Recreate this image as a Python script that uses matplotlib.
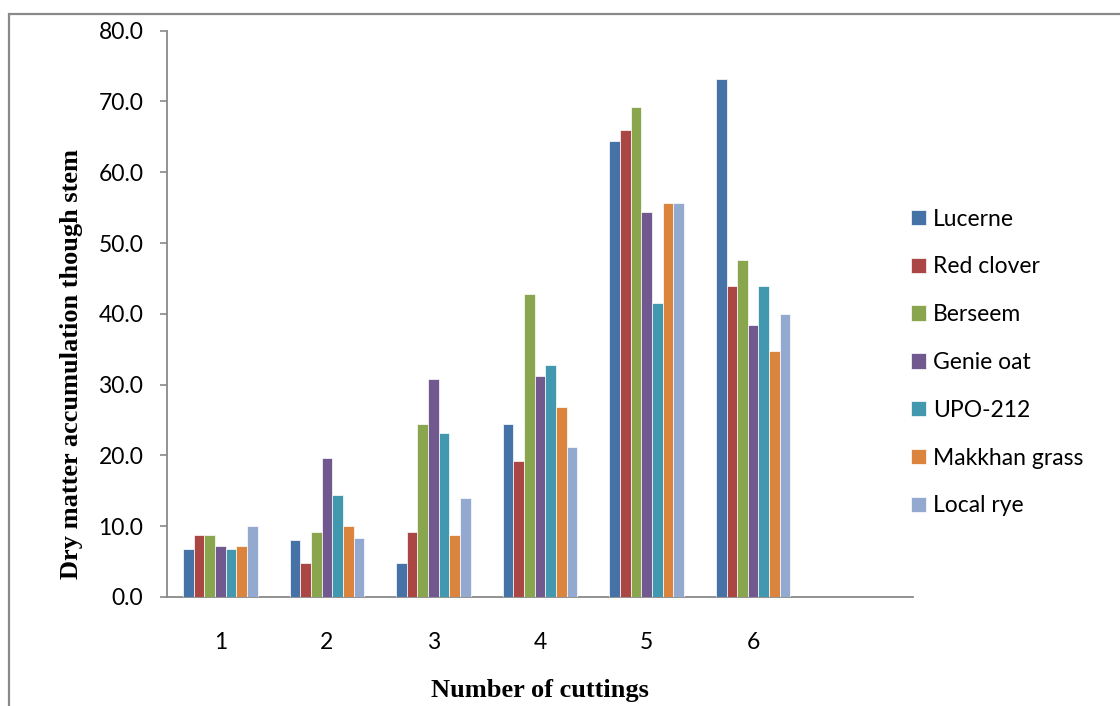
import numpy as np
import matplotlib
matplotlib.use("Agg")
import matplotlib.pyplot as plt
from matplotlib.patches import Rectangle

cuttings = ["1", "2", "3", "4", "5", "6"]
varieties = ["Lucerne", "Red clover", "Berseem", "Genie oat", "UPO-212",
             "Makkhan grass", "Local rye"]
colors = ["#4572A7", "#AA4643", "#89A54E", "#71588F", "#4198AF",
          "#DB843D", "#93A9CF"]

lucerne = [6.8, 8.0, 4.8, 24.4, 64.4, 73.2]
red_clover = [8.8, 4.8, 9.2, 19.2, 66.0, 44.0]
berseem = [8.8, 9.2, 24.4, 42.8, 69.2, 47.6]
genie_oat = [7.2, 19.6, 30.8, 31.2, 54.4, 38.4]
upo_212 = [6.8, 14.4, 23.2, 32.8, 41.6, 44.0]
makkhan_grass = [7.2, 10.0, 8.8, 26.8, 55.6, 34.8]
local_rye = [10.0, 8.4, 14.0, 21.2, 55.6, 40.0]

series = [lucerne, red_clover, berseem, genie_oat, upo_212, makkhan_grass, local_rye]

tick_font = "Lato"
label_font = "Liberation Serif"
axis_grey = "#898989"

fig = plt.figure(figsize=(11.2, 7.06), dpi=100)
ax = fig.add_axes([0.1491, 0.1544, 0.6661, 0.8021])

x = np.arange(1, len(cuttings) + 1)
n = len(series)
bar_w = 0.70 / n
for i, (vals, name, col) in enumerate(zip(series, varieties, colors)):
    offs = (i - (n - 1) / 2) * bar_w
    ax.bar(x + offs, vals, width=bar_w, color=col, edgecolor="white",
           linewidth=0.5, label=name, zorder=3)

# an empty 7th slot on the category axis, as in the original sheet
ax.set_xlim(0.5, 7.5)
ax.set_ylim(0, 80)
ax.set_yticks(np.arange(0, 81, 10))
ax.set_yticklabels([f"{v:.1f}" for v in np.arange(0, 81, 10)],
                   fontfamily=tick_font, fontsize=16.5)
ax.set_xticks(x)
ax.set_xticklabels(cuttings, fontfamily=tick_font, fontsize=16.5)

ax.tick_params(axis="y", direction="out", length=5, width=1.2,
               color=axis_grey, pad=12)
ax.tick_params(axis="x", length=0, pad=25)

for side in ["top", "right"]:
    ax.spines[side].set_visible(False)
for side in ["left", "bottom"]:
    ax.spines[side].set_color(axis_grey)
    ax.spines[side].set_linewidth(1.3)

fig.text(72 / 1120, 1 - 364 / 706, "Dry matter accumulation though stem",
         rotation=90, ha="center", va="center", fontfamily=label_font,
         fontweight="bold", fontsize=19)
fig.text(540 / 1120, 1 - 690 / 706, "Number of cuttings", ha="center",
         va="center", fontfamily=label_font, fontweight="bold", fontsize=19)

leg = fig.legend(loc="center left", bbox_to_anchor=(911 / 1120, 1 - 362.5 / 706),
                 frameon=False, borderpad=0, borderaxespad=0,
                 handlelength=0.65, handleheight=0.65, handletextpad=0.32,
                 labelspacing=1.17, prop={"family": tick_font, "size": 16.5})

# chart area border
fig.patches.append(Rectangle((9 / 1120, -0.05), 1.1, 1 - 14 / 706 + 0.05,
                             transform=fig.transFigure, fill=False,
                             edgecolor=axis_grey, linewidth=1.6))

fig.savefig("out.png", dpi=100, facecolor="white")
